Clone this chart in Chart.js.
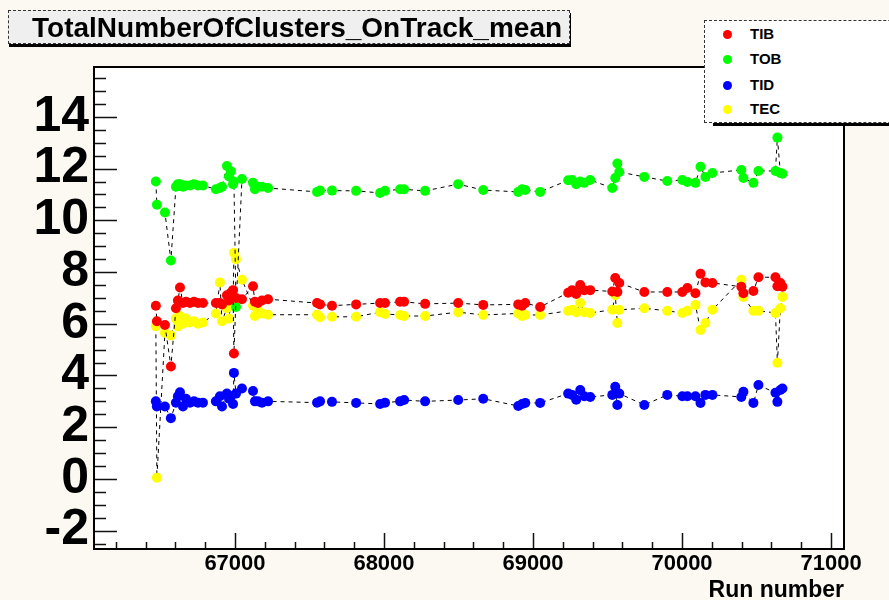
<!DOCTYPE html>
<html>
<head>
<meta charset="utf-8">
<script src="https://cdn.jsdelivr.net/npm/chart.js@4"></script>
<style>
  body { margin: 0; background: #fcf9f3; font-family: "Liberation Sans", Arial, sans-serif; overflow: hidden; }
  #wrap { position: relative; width: 889px; height: 600px; overflow: hidden; }
  #title {
    position: absolute; left: 8px; top: 10px; width: 537px; height: 32px;
    background: #efefef; border: 1px dashed #333;
    box-shadow: 1px 3px 0 #000;
    font-weight: bold; font-size: 28px; line-height: 33px; white-space: nowrap; overflow: hidden;
    padding-left: 23px;
  }
  #legend {
    position: absolute; left: 704px; top: 20px; width: 260px; height: 101px;
    background: #fff; border: 1px dashed #333;
  }
  #legendShadow { position: absolute; left: 713px; top: 121px; width: 250px; height: 5px; background: #000; }
  .item { position: absolute; left: 0; height: 20px; font-weight: bold; font-size: 15px; line-height: 20px; }
  .dot { position: absolute; left: 18px; top: 6px; width: 9px; height: 9px; border-radius: 50%; }
  .lab { position: absolute; left: 45px; top: 0; }
</style>
</head>
<body>
<div id="wrap">
  <canvas id="myChart" width="889" height="600"></canvas>
  <div id="title">TotalNumberOfClusters_OnTrack_mean</div>
  <div id="legendShadow"></div>
  <div id="legend"></div>
</div>
<script>
// run numbers (shared by all four series)
const runs = [66469, 66476, 66530, 66570, 66604, 66617, 66631, 66651, 66671, 66698, 66725, 66752, 66785,
  66872, 66899, 66913, 66946, 66960, 66973, 66987, 66993, 67007, 67047, 67121, 67134, 67154, 67181, 67222,
  67551, 67571, 67651, 67813, 67974, 68007, 68108, 68135, 68276, 68498, 68666, 68901, 68927, 68948, 69048,
  69236, 69263, 69290, 69317, 69344, 69384, 69532, 69552, 69566, 69579, 69747, 69901, 70002, 70036, 70090,
  70124, 70157, 70204, 70398, 70412, 70479, 70513, 70627, 70640, 70660, 70674];

const tib = [6.7, 6.1, 5.95, 4.35, 6.6, 6.9, 7.4, 6.8, 6.85, 6.8, 6.85, 6.8, 6.8,
  6.8, 6.8, 6.75, 7.1, 6.9, 7.2, 7.3, 4.85, 7.0, 6.95, 7.45, 6.85, 6.8, 6.9, 6.95,
  6.8, 6.75, 6.7, 6.75, 6.8, 6.8, 6.85, 6.85, 6.77, 6.8, 6.73, 6.75, 6.7, 6.8, 6.65,
  7.2, 7.3, 7.15, 7.5, 7.3, 7.3, 7.25, 7.77, 7.23, 7.58, 7.23, 7.23, 7.23, 7.38, 7.18,
  7.93, 7.6, 7.58, 7.43, 7.18, 7.27, 7.8, 7.8, 7.45, 7.58, 7.43];

const tob = [11.5, 10.6, 10.3, 8.45, 11.3, 11.4, 11.4, 11.3, 11.35, 11.35, 11.4, 11.35, 11.35,
  11.2, 11.25, 11.3, 12.1, 11.7, 11.9, 11.4, 11.5, 6.65, 11.6, 11.45, 11.2, 11.3, 11.3, 11.25,
  11.1, 11.15, 11.15, 11.14, 11.06, 11.14, 11.2, 11.2, 11.14, 11.4, 11.17, 11.1, 11.2, 11.17, 11.1,
  11.55, 11.56, 11.4, 11.5, 11.45, 11.56, 11.25, 11.64, 12.2, 11.87, 11.68, 11.52, 11.56, 11.48, 11.45,
  12.07, 11.68, 11.83, 11.95, 11.64, 11.45, 11.91, 11.91, 13.2, 11.83, 11.8];

const tid = [3.0, 2.8, 2.8, 2.35, 2.95, 3.2, 3.35, 2.8, 3.1, 2.95, 3.0, 2.95, 2.95,
  3.0, 3.2, 2.8, 3.3, 3.1, 3.2, 2.9, 4.1, 3.3, 3.5, 3.4, 3.0, 3.0, 2.95, 3.0,
  2.95, 3.0, 2.98, 2.94, 2.9, 2.95, 3.0, 3.05, 3.0, 3.05, 3.1, 2.82, 2.9, 2.94, 2.94,
  3.3, 3.25, 3.06, 3.44, 3.2, 3.17, 3.25, 3.56, 2.86, 3.3, 2.86, 3.25, 3.2, 3.2, 3.2,
  2.94, 3.25, 3.25, 3.17, 3.37, 2.94, 3.63, 3.33, 2.98, 3.44, 3.5];

const tec = [5.9, 0.05, 5.65, 5.55, 6.2, 5.9, 6.3, 6.0, 6.2, 6.05, 6.1, 6.0, 6.05,
  6.4, 7.6, 6.1, 6.6, 6.2, 6.9, 6.7, 8.75, 8.5, 7.7, 6.7, 6.3, 6.5, 6.4, 6.35,
  6.35, 6.25, 6.27, 6.27, 6.45, 6.38, 6.34, 6.3, 6.3, 6.45, 6.34, 6.4, 6.3, 6.34, 6.34,
  6.5, 6.54, 6.45, 6.8, 6.45, 6.42, 6.54, 7.1, 6.03, 6.54, 6.6, 6.5, 6.42, 6.5, 6.73,
  5.76, 6.03, 6.54, 7.7, 7.04, 6.5, 6.5, 6.42, 4.49, 6.6, 7.04];

const seriesNames = ['TIB', 'TOB', 'TID', 'TEC'];
const seriesValues = [tib, tob, tid, tec];
const seriesColors = ['#ff0000', '#00ff00', '#0000ff', '#ffff00'];

const xTickValues = [];
for (let v = 66200; v <= 71000; v += 200) xTickValues.push(v);
const yTickValues = [];
for (let v = -2.5; v <= 15.5; v += 0.5) yTickValues.push(v);

// legend
const legend = document.getElementById('legend');
const legendTops = [3, 28, 54, 78];
seriesNames.forEach((name, i) => {
  const it = document.createElement('div');
  it.className = 'item';
  it.style.top = legendTops[i] + 'px';
  it.innerHTML = `<span class="dot" style="background:${seriesColors[i]}"></span><span class="lab">${name}</span>`;
  legend.appendChild(it);
});

const datasets = seriesNames.map((name, i) => ({
  label: name,
  data: runs.map((r, k) => ({ x: r, y: seriesValues[i][k] })),
  showLine: true,
  borderColor: '#000',
  borderWidth: 1,
  borderDash: [4, 4],
  backgroundColor: seriesColors[i],
  pointBackgroundColor: seriesColors[i],
  pointBorderColor: seriesColors[i],
  pointBorderWidth: 0,
  pointRadius: 5,
  tension: 0
}));

// white pad, frame and inward ROOT-like ticks
const frameTicks = {
  id: 'frameTicks',
  beforeDraw(chart) {
    const { ctx, chartArea: a } = chart;
    ctx.save();
    ctx.fillStyle = '#fff';
    ctx.fillRect(a.left, a.top, a.right - a.left, a.bottom - a.top);
    ctx.restore();
  },
  beforeDatasetsDraw(chart) {
    const { ctx, chartArea: a, scales } = chart;
    ctx.save();
    ctx.strokeStyle = '#111';
    ctx.lineWidth = 1.5;
    scales.x.ticks.forEach(t => {
      const px = Math.round(scales.x.getPixelForValue(t.value)) + 0.5;
      const len = t.value % 1000 === 0 ? 16 : 7;
      ctx.beginPath(); ctx.moveTo(px, a.bottom); ctx.lineTo(px, a.bottom - len); ctx.stroke();
    });
    scales.y.ticks.forEach(t => {
      const py = Math.round(scales.y.getPixelForValue(t.value)) + 0.5;
      const len = t.value % 2 === 0 ? 23 : 12;
      ctx.beginPath(); ctx.moveTo(a.left, py); ctx.lineTo(a.left + len, py); ctx.stroke();
    });
    ctx.lineWidth = 2;
    ctx.strokeStyle = '#000';
    ctx.strokeRect(a.left, a.top, a.right - a.left, a.bottom - a.top);
    ctx.restore();
  }
};

new Chart(document.getElementById('myChart'), {
  type: 'scatter',
  data: { datasets },
  options: {
    responsive: false,
    animation: false,
    layout: { padding: { top: 67, right: 45, left: 0, bottom: 0 } },
    plugins: { legend: { display: false }, tooltip: { enabled: false } },
    scales: {
      x: {
        type: 'linear',
        min: 66054,
        max: 71087,
        afterBuildTicks: s => { s.ticks = xTickValues.map(v => ({ value: v })); },
        afterFit: s => { s.height = 51; },
        grid: { display: false, drawTicks: false },
        border: { display: false },
        ticks: {
          autoSkip: false, maxRotation: 0, padding: 2, color: '#000',
          font: { family: 'Liberation Sans', size: 22, weight: 'bold' },
          callback: v => (v % 1000 === 0 ? String(v) : '')
        },
        title: {
          display: true, text: 'Run number', align: 'end', color: '#000',
          font: { family: 'Liberation Sans', size: 23, weight: 'bold', lineHeight: 0.8 },
          padding: 0
        }
      },
      y: {
        type: 'linear',
        min: -2.71,
        max: 15.93,
        afterBuildTicks: s => { s.ticks = yTickValues.map(v => ({ value: v })); },
        afterFit: s => { s.width = 94; },
        grid: { display: false, drawTicks: false },
        border: { display: false },
        ticks: {
          autoSkip: false, padding: 5, color: '#000',
          font: { family: 'Liberation Sans', size: 50, weight: 'bold' },
          callback: v => (v % 2 === 0 ? String(v) : '')
        }
      }
    }
  },
  plugins: [frameTicks]
});
</script>
</body>
</html>
